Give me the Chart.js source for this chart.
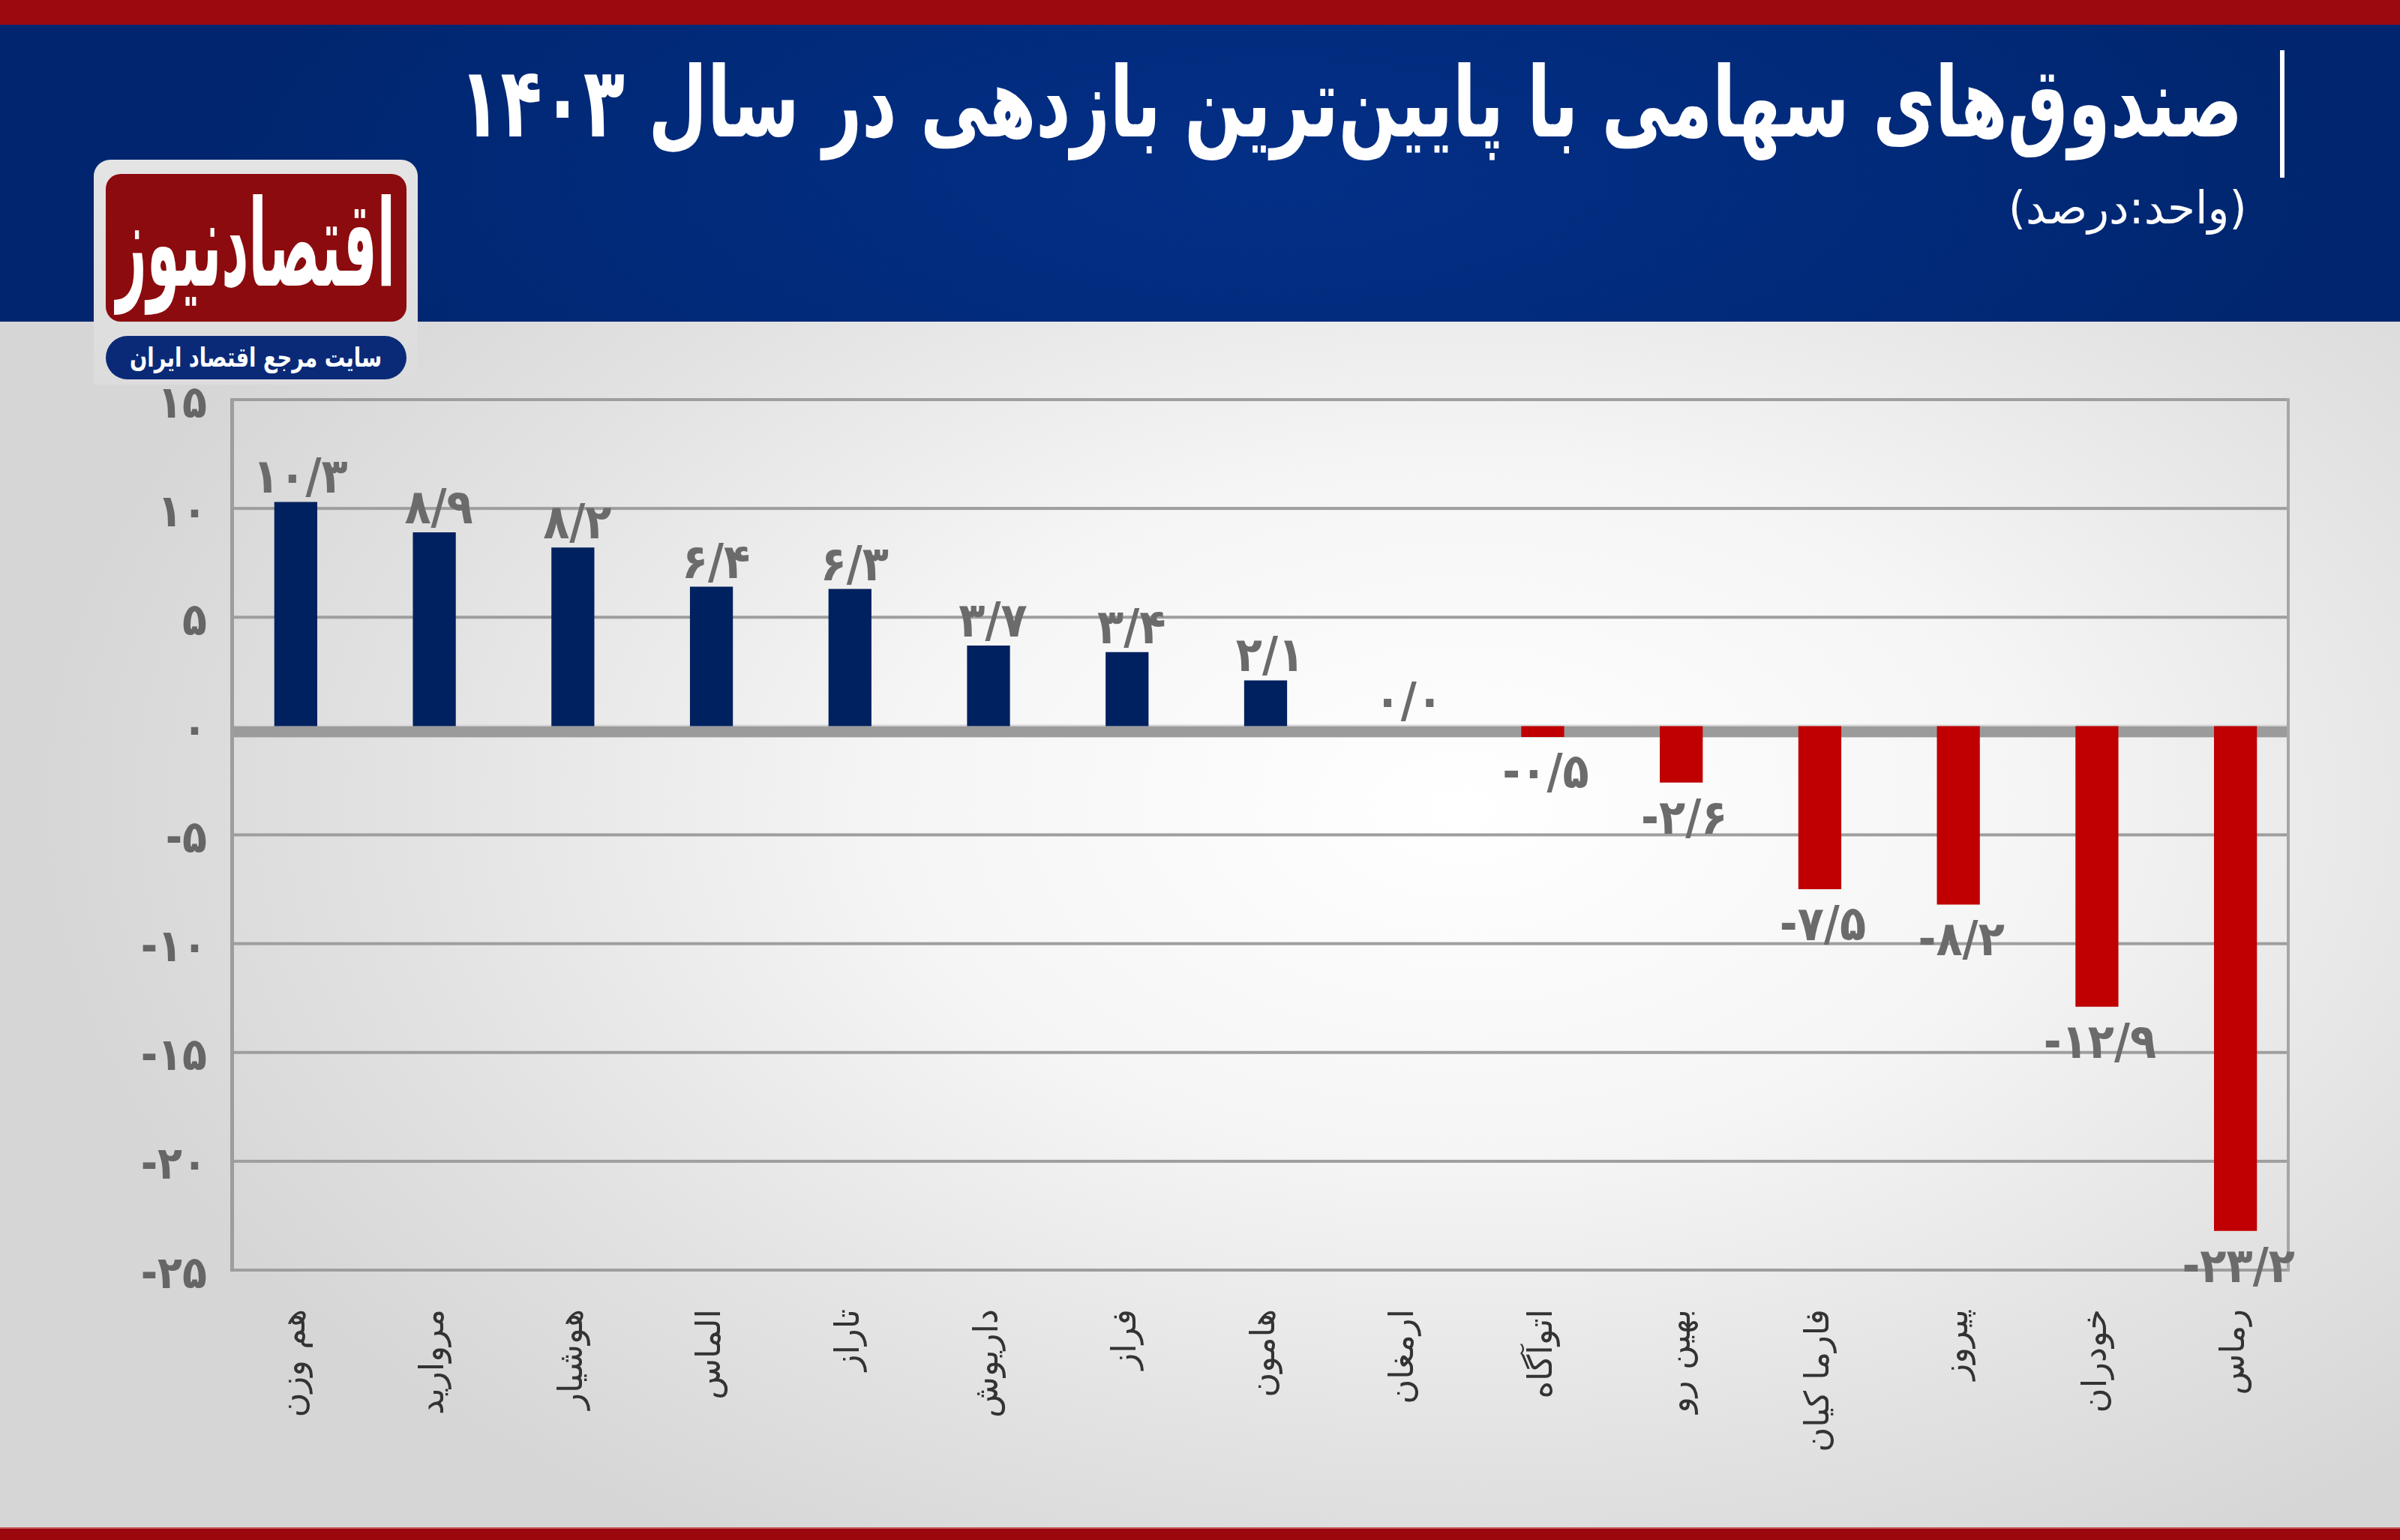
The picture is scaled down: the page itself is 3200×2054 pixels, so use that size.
<!DOCTYPE html>
<html><head><meta charset="utf-8">
<script src="https://cdn.jsdelivr.net/npm/chart.js@4.4.1/dist/chart.umd.min.js"></script>
<style>
html,body{margin:0;padding:0;width:3200px;height:2054px;overflow:hidden;}
body{position:relative;background:#e6e6e6;font-family:"DejaVu Sans",sans-serif;}
#topRed{position:absolute;left:0;top:0;width:3200px;height:33px;background:#9c0a10;}
#header{position:absolute;left:0;top:33px;width:3200px;height:396px;background:radial-gradient(ellipse 1400px 500px at 1700px 200px,#032f86 0%,#012a7a 60%,#01266f 100%);}
#plotBg{position:absolute;left:0;top:429px;width:3200px;height:1608px;background:radial-gradient(ellipse 1900px 1150px at 1950px 650px,#ffffff 0%,#f5f5f5 40%,#e2e2e2 75%,#d6d6d6 100%);}
#botRed{position:absolute;left:0;top:2037px;width:3200px;height:17px;background:#9b070d;border-top:2px solid #c75a5e;box-sizing:border-box;}
#title{position:absolute;right:210px;top:72px;font-weight:bold;font-size:104px;line-height:104px;color:#fff;direction:rtl;white-space:nowrap;transform-origin:right top;}
#sub{position:absolute;right:204px;top:240px;font-size:58px;line-height:70px;color:#fff;direction:rtl;white-space:nowrap;transform-origin:right top;}
#vbar{position:absolute;left:3040px;top:67px;width:6px;height:170px;background:#fff;}
#logoOuter{position:absolute;left:125px;top:213px;width:432px;height:300px;background:linear-gradient(#e4e4e4,#dcdcdc);border-radius:22px 22px 0 0;}
#logoRed{position:absolute;left:141px;top:232px;width:401px;height:197px;background:#8c0b0e;border-radius:20px;overflow:hidden;}
#logoTxt{position:absolute;left:0;top:0;font-weight:bold;font-size:110px;line-height:130px;color:#fff;direction:rtl;white-space:nowrap;transform-origin:left top;font-family:"DejaVu Serif","DejaVu Sans",serif;}
#pill{position:absolute;left:141px;top:448px;width:401px;height:58px;background:#0a2a78;border-radius:29px;}
#pillTxt{position:absolute;left:0;top:0;font-weight:bold;font-size:36px;line-height:44px;color:#fff;direction:rtl;white-space:nowrap;transform-origin:left top;}
#wrap{position:absolute;left:0;top:429px;width:3200px;height:1606px;}
</style></head>
<body>
<div id="topRed"></div>
<div id="header"></div>
<div id="plotBg"></div>
<div id="botRed"></div>
<div id="vbar"></div>
<div id="title">صندوق‌های سهامی با پایین‌ترین بازدهی در سال ۱۴۰۳</div>
<div id="sub">(واحد:درصد)</div>
<div id="logoOuter"></div>
<div id="logoRed"><span id="logoTxt">اقتصادنیوز</span></div>
<div id="pill"><span id="pillTxt">سایت مرجع اقتصاد ایران</span></div>
<div id="wrap"><canvas id="c" width="3200" height="1606"></canvas></div>
<script>
// ---- data ----
const categories = ["هم وزن","مروارید","هوشیار","الماس","تاراز","داریوش","فراز","هامون","ارمغان","اتوآگاه","بهین رو","فارما کیان","پیروز","خودران","رماس"];
const returns = [10.3, 8.9, 8.2, 6.4, 6.3, 3.7, 3.4, 2.1, 0, -0.5, -2.6, -7.5, -8.2, -12.9, -23.2];
const yTicks = [15, 10, 5, 0, -5, -10, -15, -20, -25];

const faDigits = "۰۱۲۳۴۵۶۷۸۹";
function toFa(s){ return String(s).replace(/[0-9]/g, d => faDigits[d]); }
function fmtVal(v){ return toFa(v.toFixed(1).replace('.', '/')); }

(function(){
  const t1 = document.getElementById('title');
  const r1 = t1.getBoundingClientRect();
  t1.style.transform = `scale(${2378 / r1.width},1.25)`;
  const s = document.getElementById('sub');
  const rs = s.getBoundingClientRect();
  s.style.transform = `scale(${318 / rs.width},1.05)`;
  const t = document.getElementById('logoTxt');
  const r = t.getBoundingClientRect();
  t.style.transform = `translate(14px,-2px) scale(${372 / r.width},${190 / r.height})`;
  const p = document.getElementById('pillTxt');
  const rp = p.getBoundingClientRect();
  p.style.transform = `translate(32px,7px) scale(${336/rp.width},1)`;
})();

const CH = 1606, AREA_TOP = 104, AREA_BOTTOM = 1265;
const CAT_LEFT = 302, CAT_RIGHT = 3073;      // category band extent
const FRAME_LEFT = 310, FRAME_RIGHT = 3051;  // drawn frame extent

const framePlugin = {
  id: 'frame',
  beforeDatasetsDraw(chart){
    const {ctx, chartArea:a, scales:{y}} = chart;
    ctx.save();
    ctx.fillStyle = '#9e9e9e';
    yTicks.forEach(v => {
      if (v === 0) return;
      const py = y.getPixelForValue(v);
      ctx.fillRect(FRAME_LEFT, py - 2, FRAME_RIGHT - FRAME_LEFT, 4);
    });
    const y0 = y.getPixelForValue(0);
    ctx.fillStyle = '#9b9b9b';
    ctx.fillRect(FRAME_LEFT, y0, FRAME_RIGHT - FRAME_LEFT, 15);
    ctx.fillStyle = '#dadada';
    ctx.fillRect(FRAME_LEFT, y0 - 2, FRAME_RIGHT - FRAME_LEFT, 2);
    ctx.fillStyle = '#9d9d9d';
    ctx.fillRect(FRAME_LEFT - 3, a.top - 2, 5, a.bottom - a.top + 4);
    ctx.fillStyle = '#a6a6a6';
    ctx.fillRect(FRAME_RIGHT - 2, a.top - 2, 4, a.bottom - a.top + 4);
    ctx.restore();
  },
  afterDatasetsDraw(chart){
    const {ctx} = chart;
    const meta = chart.getDatasetMeta(0);
    ctx.save();
    ctx.font = 'bold 64px "DejaVu Sans Condensed","DejaVu Sans",sans-serif';
    ctx.fillStyle = '#6b6b6b';
    ctx.textAlign = 'center';
    meta.data.forEach((bar, i) => {
      const v = returns[i];
      const txt = (v < 0 ? '-' : '') + fmtVal(Math.abs(v));
      ctx.textBaseline = 'alphabetic';
      if (v >= 0) ctx.fillText(txt, bar.x + 6, bar.y - 12);
      else ctx.fillText(txt, bar.x + 4, bar.y + 68);
    });
    ctx.restore();
  }
};

new Chart(document.getElementById('c'), {
  type: 'bar',
  data: {
    labels: categories,
    datasets: [{
      data: returns,
      backgroundColor: ctx => (returns[ctx.dataIndex] < 0 ? '#c00000' : '#00215f'),
      borderWidth: 0,
      barPercentage: 0.31,
      categoryPercentage: 1.0
    }]
  },
  options: {
    responsive: false,
    animation: false,
    layout: { padding: { top: AREA_TOP, right: 3200 - CAT_RIGHT, left: 0, bottom: 0 } },
    plugins: { legend: { display: false }, tooltip: { enabled: false } },
    scales: {
      x: {
        grid: { display: false },
        border: { display: false },
        ticks: {
          autoSkip: false, maxRotation: 90, minRotation: 90, padding: 44,
          color: '#333333',
          font: { family: '"DejaVu Sans", sans-serif', size: 45 }
        },
        afterFit(s){ s.height = CH - AREA_BOTTOM; }
      },
      y: {
        min: -25, max: 15,
        afterBuildTicks(s){ s.ticks = yTicks.map(v => ({ value: v })); },
        ticks: {
          callback: v => (v < 0 ? '-' : '') + toFa(Math.abs(v)),
          color: '#666666', padding: 26, labelOffset: 8,
          font: { family: '"DejaVu Sans Condensed","DejaVu Sans",sans-serif', size: 60, weight: 'bold' }
        },
        grid: { display: false, drawTicks: false },
        border: { display: false },
        afterFit(s){ s.width = CAT_LEFT; }
      }
    }
  },
  plugins: [framePlugin]
});
</script>
</body></html>
